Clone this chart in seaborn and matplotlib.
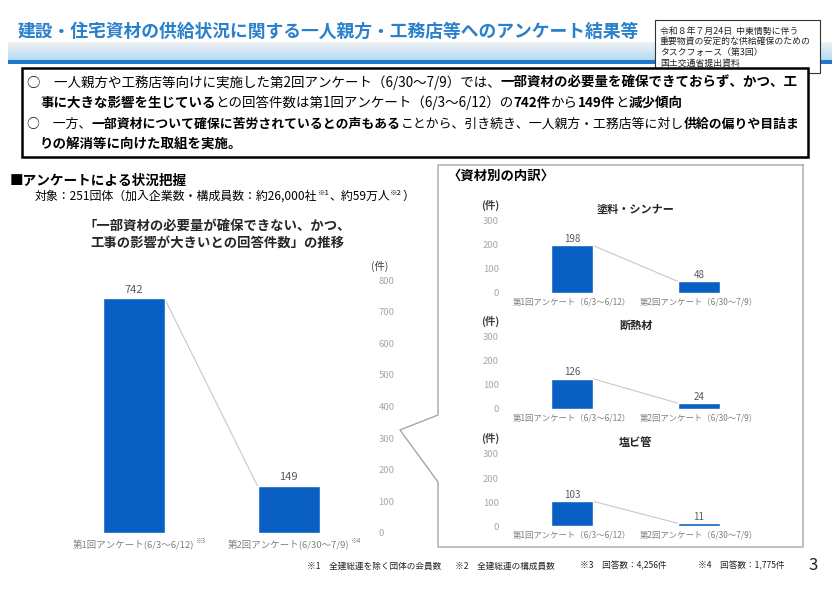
import numpy as np
import seaborn as sns
import matplotlib.pyplot as plt
from matplotlib.lines import Line2D
from matplotlib.patches import Rectangle

sns.set_style("white")
plt.rcParams["font.family"] = ["Noto Sans CJK JP", "DejaVu Sans"]

# data
rounds_main = ["第1回アンケート(6/3～6/12)", "第2回アンケート(6/30～7/9)"]
rounds_sub = ["第1回アンケート（6/3～6/12）", "第2回アンケート（6/30～7/9）"]
notes_main = ["※3", "※4"]
total = [742, 149]
materials = ["塗料・シンナー", "断熱材", "塩ビ管"]
paint = [198, 48]
insulation = [126, 24]
pvc_pipe = [103, 11]
sub_values = [paint, insulation, pvc_pipe]

BLUE = "#0a5fc2"
W, H = 840, 594

fig = plt.figure(figsize=(8.4, 5.94), dpi=100)
rend = fig.canvas.get_renderer()


def fx(x):
    return x / W


def fy(y):
    return 1 - y / H


def rich(x, y, parts, size, color="black", **kw):
    # parts: (text, bold) or (text, bold, size, dy)
    cx = x
    texts = []
    for p in parts:
        s, bold = p[0], p[1]
        sz = p[2] if len(p) > 2 else size
        dy = p[3] if len(p) > 3 else 0
        t = fig.text(fx(cx), fy(y + dy), s, fontsize=sz, color=color,
                     fontweight="bold" if bold else "normal",
                     ha="left", va="center", **kw)
        texts.append(t)
        cx += t.get_window_extent(rend).width
    return cx, texts


def rich_fit(x, y, parts, size, right):
    # draw, then shrink to end at `right`
    end, texts = rich(x, y, parts, size)
    for t in texts:
        t.remove()
    sz = size * (right - x) / (end - x)
    rich(x, y, parts, sz)
    return sz


# header band
band = fig.add_axes([fx(8), fy(60), fx(832) - fx(8), (60 - 42) / H])
grad = np.linspace(0, 1, 50).reshape(-1, 1)
band.imshow(grad, aspect="auto", cmap=sns.light_palette("#b5dbf4", as_cmap=True),
            extent=[0, 1, 0, 1], origin="upper")
band.axis("off")
fig.add_artist(Rectangle((fx(8), fy(63.5)), fx(832) - fx(8), 3.5 / H,
                         transform=fig.transFigure, color="#1f78c8", lw=0))

fig.text(fx(18), fy(32), "建設・住宅資材の供給状況に関する一人親方・工務店等へのアンケート結果等",
         fontsize=12.8, fontweight="bold", color="#2a80cc", va="center")

# source box
fig.add_artist(Rectangle((fx(655), fy(73)), fx(820) - fx(655), 53 / H,
                         transform=fig.transFigure, facecolor="white",
                         edgecolor="#333333", lw=0.8))
for i, s in enumerate(["令和８年７月24日  中東情勢に伴う", "重要物資の安定的な供給確保のための",
                       "タスクフォース（第3回）", "国土交通省提出資料"]):
    fig.text(fx(660), fy(31 + i * 10.7), s, fontsize=6.4, va="center", color="#222222")

# summary box
fig.add_artist(Rectangle((fx(22), fy(157)), fx(808) - fx(22), 89 / H,
                         transform=fig.transFigure, facecolor="white",
                         edgecolor="black", lw=1.8))
SZ = rich_fit(27, 83, [("○　一人親方や工務店等向けに実施した第2回アンケート（6/30～7/9）では、", False),
                       ("一部資材の必要量を確保できておらず、かつ、工", True)], 9.6, 800)
rich(40, 103, [("事に大きな影響を生じている", True),
               ("との回答件数は第1回アンケート（6/3～6/12）の", False),
               ("742件", True), ("から", False), ("149件", True), ("と", False),
               ("減少傾向", True)], SZ)
rich_fit(27, 124, [("○　一方、", False), ("一部資材について確保に苦労されているとの声もある", True),
                   ("ことから、引き続き、一人親方・工務店等に対し", False),
                   ("供給の偏りや目詰ま", True)], 9.6, 800)
rich(40, 145, [("りの解消等に向けた取組を実施。", True)], SZ)

# left section headings
rich(10, 181, [("■アンケートによる状況把握", True)], 9.8)
rich(35, 196, [("対象：251団体（加入企業数・構成員数：約26,000社", False),
               ("※1", False, 5.5, -3), ("、約59万人", False), ("※2", False, 5.5, -3),
               ("）", False)], 8.6)
fig.text(fx(217), fy(227), "「一部資材の必要量が確保できない、かつ、", fontsize=9.6,
         fontweight="bold", ha="center", va="center")
fig.text(fx(217), fy(243), "工事の影響が大きいとの回答件数」の推移", fontsize=9.6,
         fontweight="bold", ha="center", va="center")

# main chart
ax = fig.add_axes([fx(56), fy(533), fx(366) - fx(56), 253 / H])
sns.barplot(x=rounds_main, y=total, width=0.4, color=BLUE, saturation=1, ax=ax)
ax.plot([0.2, 0.8], total, color="#c8c8c8", lw=0.8, zorder=0)
for i, v in enumerate(total):
    ax.text(i, v + 12, str(v), ha="center", va="bottom", fontsize=8, color="#595959")
ax.set_xlim(-0.5, 1.5)
ax.set_ylim(0, 800)
ax.set_yticks(range(0, 801, 100))
ax.yaxis.tick_right()
ax.tick_params(axis="y", length=0, pad=9, labelsize=6.8, labelcolor="#a6a6a6")
ax.tick_params(axis="x", length=0, pad=5, labelsize=6.8, labelcolor="#7f7f7f")
sns.despine(ax=ax, left=True, bottom=True)
fig.text(fx(380), fy(266), "(件)", fontsize=7.5, ha="center", va="center", color="#404040")
for lab, note in zip(ax.get_xticklabels(), notes_main):
    bb = lab.get_window_extent(rend)
    fig.text(bb.x1 / W + 0.001, (bb.y1 - 1) / H, note, fontsize=4.8,
             color="#7f7f7f", va="center", ha="left")

# right panel frame with notch
px = [803, 438, 438, 400, 438, 438, 803, 803]
py = [165, 165, 415, 430, 482, 547, 547, 165]
fig.add_artist(Line2D([fx(v) for v in px], [fy(v) for v in py],
                      transform=fig.transFigure, color="#a6a6a6", lw=1))
rich(448, 176, [("〈資材別の内訳〉", True)], 9.6)

# sub charts
sub_bottoms = [293, 409, 526]
for name, vals, yb in zip(materials, sub_values, sub_bottoms):
    sa = fig.add_axes([fx(508.5), fy(yb), fx(762.5) - fx(508.5), 72 / H])
    sns.barplot(x=rounds_sub, y=vals, width=0.33, color=BLUE, saturation=1, ax=sa)
    sa.plot([0.165, 0.835], vals, color="#c8c8c8", lw=0.8, zorder=0)
    for i, v in enumerate(vals):
        sa.text(i, v + 6, str(v), ha="center", va="bottom", fontsize=7, color="#595959")
    sa.set_xlim(-0.5, 1.5)
    sa.set_ylim(0, 300)
    sa.set_yticks([0, 100, 200, 300])
    sa.tick_params(axis="y", length=0, pad=7, labelsize=6.8, labelcolor="#a6a6a6")
    sa.tick_params(axis="x", length=0, pad=3, labelsize=6.0, labelcolor="#7f7f7f")
    sns.despine(ax=sa, left=True, bottom=True)
    sa.set_title(name, fontsize=8, fontweight="bold", pad=6)
    fig.text(fx(490), fy(yb - 88), "(件)", fontsize=7.5, fontweight="bold",
             ha="center", va="center", color="#404040")

# footnotes
for x, s in [(307, "※1　全建総連を除く団体の会員数"), (455, "※2　全建総連の構成員数"),
             (580, "※3　回答数：4,256件"), (698, "※4　回答数：1,775件")]:
    fig.text(fx(x), fy(566), s, fontsize=6.2, va="center", color="#222222")
fig.text(fx(808), fy(565), "3", fontsize=12, va="center", color="#222222")

fig.savefig("out.png", dpi=100)
